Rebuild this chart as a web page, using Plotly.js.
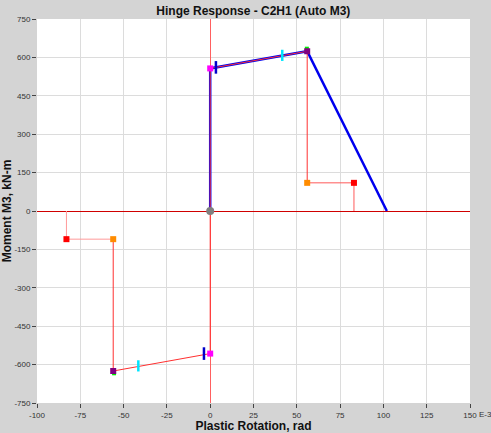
<!DOCTYPE html>
<html>
<head>
<meta charset="utf-8">
<script src="https://cdn.plot.ly/plotly-3.0.1.min.js"></script>
<style>html,body{margin:0;padding:0;background:#d4d4d4;}#chart{width:491px;height:433px;}</style>
</head>
<body>
<div id="chart"></div>
<script>
// Backbone (hinge definition) points
const backboneX = [-56, -56, 0, 0, 0, 56, 56];
const backboneY = [-110, -625, -557, 0, 557, 624, 110];
const backboneEndNegX = [-83, -83, -56];
const backboneEndNegY = [0, -110, -110];
const backboneEndPosX = [56, 83, 83];
const backboneEndPosY = [110, 110, 0];
// Hinge response curve
const responseX = [0, 0, 56, 102];
const responseY = [0, 557, 624, 0];
// Characteristic points
const pointBX = [0, 0];      const pointBY = [557, -557];
const pointCX = [56, -56];   const pointCY = [624, -625];
const pointDX = [56, -56];   const pointDY = [110, -110];
const pointEX = [83, -83];   const pointEY = [110, -110];
const ioX = [3.3, -3.6];     const ioY = [561, -557];
const lsX = [41.6, -41.5];   const lsY = [608, -605];
const cpX = [55.8, -55.5];   const cpY = [634, -634];
const originX = [0];         const originY = [0];
// Axis ticks
const xTicks = [-100, -75, -50, -25, 0, 25, 50, 75, 100, 125, 150];
const yTicks = [-750, -600, -450, -300, -150, 0, 150, 300, 450, 600, 750];

const traces = [
  {x: backboneEndNegX, y: backboneEndNegY, mode: 'lines', line: {color: '#ff9a9a', width: 1}, hoverinfo: 'skip'},
  {x: backboneEndPosX, y: backboneEndPosY, mode: 'lines', line: {color: '#ff5a5a', width: 1}, hoverinfo: 'skip'},
  {x: responseX, y: responseY, mode: 'lines', line: {color: '#0000ee', width: 2.5}},
  {x: backboneX, y: backboneY, mode: 'lines', line: {color: '#ff3030', width: 1}},
  {x: ioX, y: ioY, mode: 'markers', marker: {symbol: 'line-ns', size: 9, line: {color: '#0000cc', width: 2.5}}},
  {x: lsX, y: lsY, mode: 'markers', marker: {symbol: 'line-ns', size: 8, line: {color: '#00e5ff', width: 2.5}}},
  {x: cpX, y: cpY, mode: 'markers', marker: {symbol: 'square', size: 4, color: '#00ee00'}},
  {x: pointBX, y: pointBY, mode: 'markers', marker: {symbol: 'square', size: 6, color: '#ff00ff'}},
  {x: pointCX, y: pointCY, mode: 'markers', marker: {symbol: 'square', size: 6, color: '#800080'}},
  {x: pointDX, y: pointDY, mode: 'markers', marker: {symbol: 'square', size: 6, color: '#ff8c00'}},
  {x: pointEX, y: pointEY, mode: 'markers', marker: {symbol: 'square', size: 6, color: '#ff0000'}},
  {x: originX, y: originY, mode: 'markers', marker: {symbol: 'circle', size: 8, color: '#808080'}}
];

const font = 'Liberation Sans, Arial, sans-serif';
const layout = {
  width: 491, height: 433,
  margin: {l: 37, r: 21, t: 19, b: 30},
  paper_bgcolor: '#d4d4d4',
  plot_bgcolor: '#ffffff',
  showlegend: false,
  font: {family: font, size: 8, color: '#333333'},
  title: {text: '<b>Hinge Response - C2H1 (Auto M3)</b>', font: {family: font, size: 12, color: '#111111'}, x: 0.516, xanchor: 'center', y: 0.985, yanchor: 'top'},
  xaxis: {
    range: [-100, 150], tickvals: xTicks, ticktext: xTicks.map(String),
    showgrid: true, gridcolor: '#dcdcdc', gridwidth: 1,
    zeroline: true, zerolinecolor: '#ff6060', zerolinewidth: 1,
    ticks: 'outside', ticklen: 4, tickcolor: '#444444', tickfont: {size: 8, color: '#333333'},
    showline: false, fixedrange: true,
    title: {text: '<b>Plastic Rotation, rad</b>', font: {family: font, size: 12, color: '#111111'}, standoff: 5}
  },
  yaxis: {
    range: [-750, 750], tickvals: yTicks, ticktext: yTicks.map(String),
    showgrid: true, gridcolor: '#dcdcdc', gridwidth: 1,
    zeroline: true, zerolinecolor: '#d00000', zerolinewidth: 1,
    ticks: 'outside', ticklen: 4, tickcolor: '#444444', tickfont: {size: 8, color: '#333333'},
    showline: false, fixedrange: true,
    title: {text: '<b>Moment M3, kN-m</b>', font: {family: font, size: 12, color: '#111111'}, standoff: 2}
  },
  annotations: [
    {text: 'E-3', xref: 'paper', yref: 'paper', x: 1.0, y: 0, xanchor: 'left', yanchor: 'top', yshift: -5, xshift: 7, showarrow: false, font: {family: font, size: 8, color: '#333333'}}
  ]
};

Plotly.newPlot('chart', traces, layout, {displayModeBar: false, staticPlot: true});
</script>
</body>
</html>
